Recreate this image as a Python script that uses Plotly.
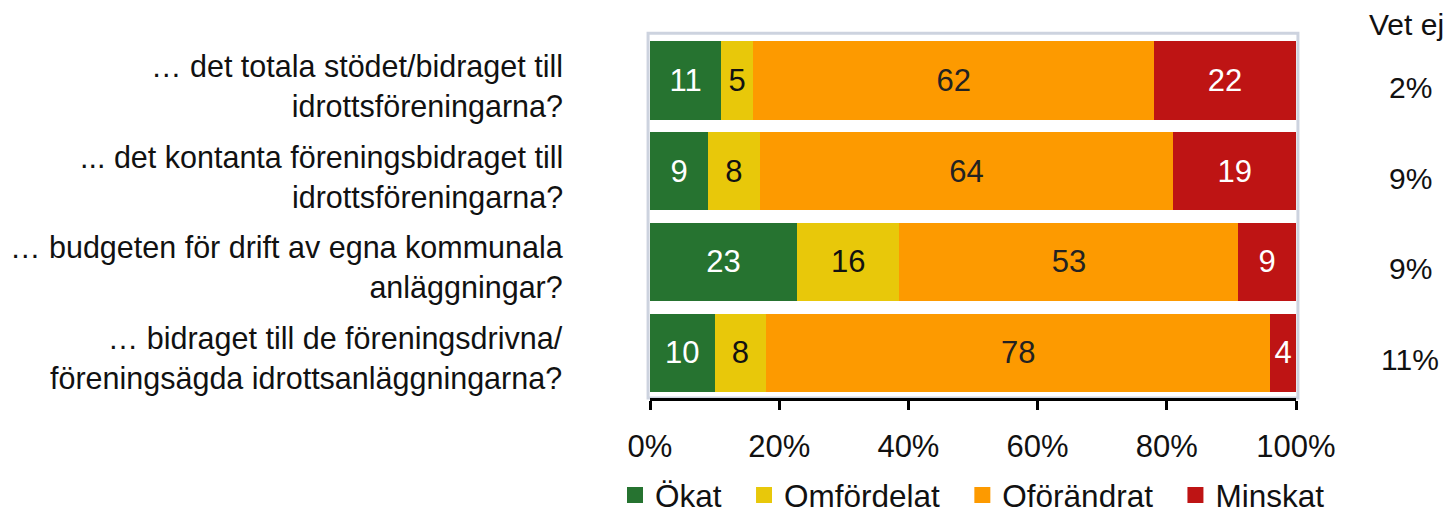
import plotly.graph_objects as go

categories = [
    "… det totala stödet/bidraget till<br>idrottsföreningarna?",
    "... det kontanta föreningsbidraget till<br>idrottsföreningarna?",
    "… budgeten för drift av egna kommunala<br>anläggningar?",
    "… bidraget till de föreningsdrivna/<br>föreningsägda idrottsanläggningarna?",
]
series_names = ["Ökat", "Omfördelat", "Oförändrat", "Minskat"]
okat = [11, 9, 23, 10]
omfordelat = [5, 8, 16, 8]
oforandrat = [62, 64, 53, 78]
minskat = [22, 19, 9, 4]
vet_ej = ["2%", "9%", "9%", "11%"]
tick_vals = [0, 20, 40, 60, 80, 100]
tick_text = ["0%", "20%", "40%", "60%", "80%", "100%"]

colors = ["#267330", "#e8c80a", "#fd9a00", "#be1414"]
text_colors = ["white", "#111111", "#222222", "white"]
values = [okat, omfordelat, oforandrat, minskat]

FONT = "Liberation Sans, Arial, sans-serif"
FS = 31

# page offset (browser body margin)
OFF = 8
L = 650 - OFF
PW = 646
R = 1455 - L - PW
T = 35 - OFF
PH = 363
B = 512 - T - PH

def px_x(xs):
    return (xs - OFF - L) / PW

def px_y(ys):
    return 1 - (ys - OFF - T) / PH

fig = go.Figure()
for name, vals, c, tc in zip(series_names, values, colors, text_colors):
    fig.add_trace(go.Bar(
        y=categories, x=vals, name=name, orientation="h",
        marker=dict(color=c, line=dict(width=0)),
        text=[str(v) for v in vals], textposition="inside",
        insidetextanchor="middle",
        textfont=dict(color=tc, size=FS, family=FONT),
        constraintext="none", showlegend=False,
    ))
# legend entries (square markers)
for name, c in zip(series_names, colors):
    fig.add_trace(go.Scatter(
        x=[None], y=[None], mode="markers", name=name + "\u00a0\u00a0",
        marker=dict(symbol="square", size=20, color=c),
        showlegend=True, hoverinfo="skip",
    ))

# category labels
for cat in categories:
    fig.add_annotation(text=cat, xref="paper", x=px_x(565), xanchor="right",
                       yref="y", y=cat, yshift=-6, align="right", showarrow=False,
                       font=dict(size=30.5, family=FONT, color="#111"))

# Vet ej column
fig.add_annotation(text="Vet ej", xref="paper", x=px_x(1406), xanchor="center",
                   yref="paper", y=px_y(25), yanchor="middle",
                   showarrow=False, font=dict(size=FS - 1, family=FONT, color="#111"))
for cat, v in zip(categories, vet_ej):
    fig.add_annotation(text=v, xref="paper", x=px_x(1410), xanchor="center",
                       yref="y", y=cat, yshift=-7, showarrow=False,
                       font=dict(size=FS - 1, family=FONT, color="#111"))

# plot area border
fig.add_shape(type="rect", xref="x domain", yref="y domain", x0=-0.003, x1=1.003,
              y0=0, y1=1.005, line=dict(color="#cdd3df", width=3), layer="below")

fig.update_layout(
    barmode="stack", barnorm="percent", bargap=0.14,
    width=1455, height=512,
    margin=dict(l=L, r=R, t=T, b=B, autoexpand=False),
    plot_bgcolor="white", paper_bgcolor="white",
    font=dict(family=FONT, size=FS, color="#111"),
    showlegend=True,
    legend=dict(orientation="h", x=px_x(627 - 12), xanchor="left",
                y=px_y(495), yanchor="middle",
                font=dict(size=31.5, family=FONT), itemwidth=30, traceorder="normal",
                itemsizing="trace"),
)
fig.update_xaxes(range=[0, 100], tickvals=tick_vals, ticktext=tick_text,
                 showgrid=False, zeroline=False, showline=True, linecolor="black",
                 linewidth=3, ticks="outside", ticklen=9, tickwidth=3, tickcolor="black",
                 ticklabelstandoff=10, tickfont=dict(size=FS, family=FONT))
fig.update_yaxes(autorange="reversed", showgrid=False, zeroline=False, showline=False,
                 ticks="", showticklabels=False)

fig.write_html("out.html")
